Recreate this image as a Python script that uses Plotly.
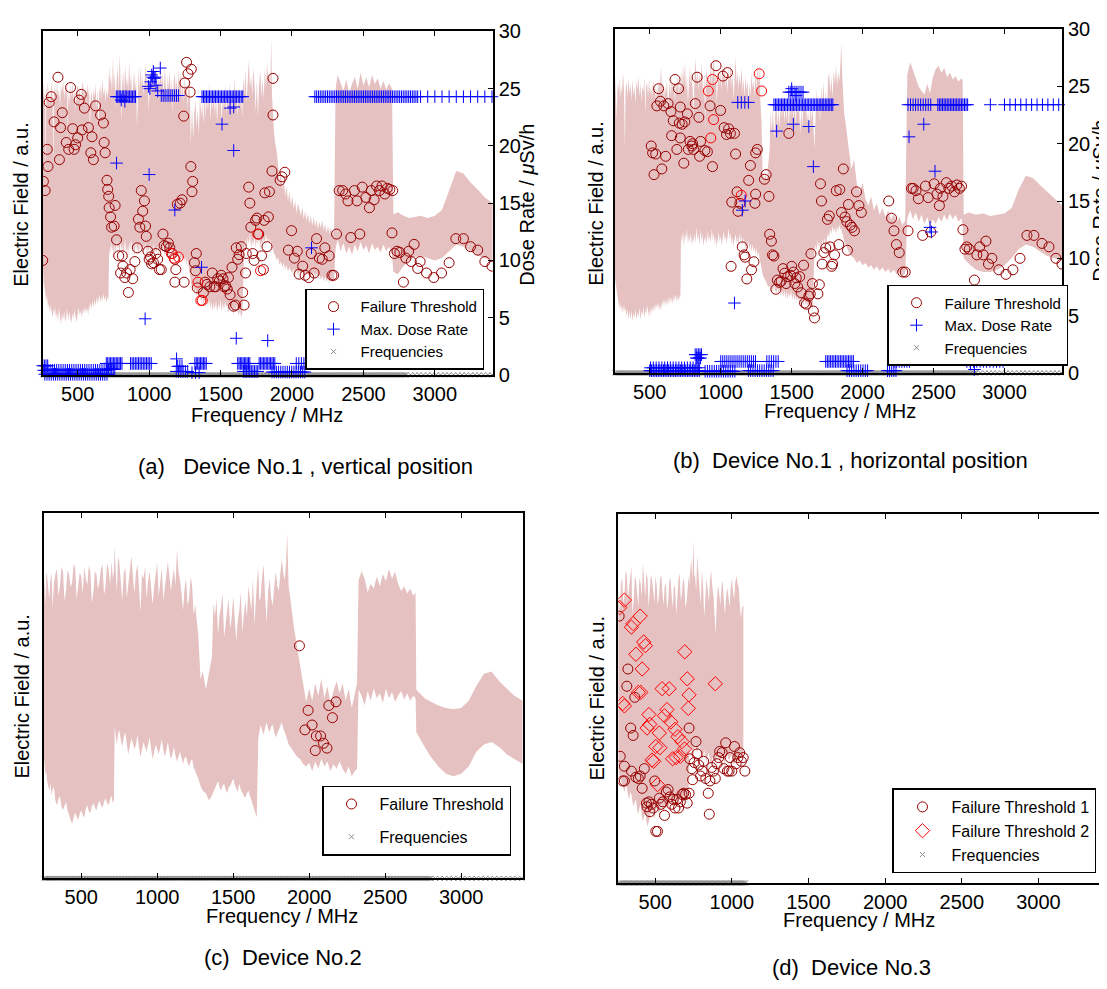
import numpy as np
import plotly.graph_objects as go

W, H = 1107, 989
PAGE_OFFSET = 8  # default page margin of the html body, in px
FONT = "Liberation Sans, Arial, Helvetica, sans-serif"

# ---------------- data ----------------
X_TICKS = [500, 1000, 1500, 2000, 2500, 3000]
DOSE_TICKS = [0, 5, 10, 15, 20, 25, 30]
X_RANGE = [255, 3405]
X_RANGE_D = [260, 3408]
Y_RANGE = [0, 30]

CAPTIONS = ["(a)   Device No.1 , vertical position",
            "(b)  Device No.1 , horizontal position",
            "(c)  Device No.2",
            "(d)  Device No.3"]

# test-frequency sweeps (start, stop, step) in MHz
FREQ_SWEEP_ABC = [(255, 2800, 10), (2800, 3406, 30)]
FREQ_SWEEP_D = [(258, 1092, 8)]

# ---- panel (a): field band (MHz, upper, lower) ----
BAND_A = [
    (255, 25.5, 10.0), (259, 24.2, 8.6), (264, 25.8, 7.4), (268, 23.0, 8.0), (272, 25.1, 6.8), (276, 17.5, 7.2),
    (280, 24.4, 6.4), (286, 25.6, 6.9), (292, 24.0, 5.8), (298, 25.2, 6.3), (305, 23.6, 5.4), (311, 24.9, 6.1),
    (318, 25.7, 5.6), (324, 24.1, 5.0), (330, 18.2, 5.8), (334, 24.6, 5.2), (341, 25.3, 6.0), (348, 23.8, 4.9),
    (355, 25.5, 5.5), (362, 24.3, 4.6), (369, 25.0, 5.9), (376, 23.4, 5.1), (383, 25.4, 4.4), (390, 24.6, 5.3),
    (398, 25.8, 4.8), (405, 24.0, 5.6), (412, 25.2, 4.6), (419, 24.5, 5.0), (426, 25.6, 5.8), (430, 20.5, 5.3),
    (434, 24.8, 4.7), (441, 23.6, 5.5), (448, 25.3, 5.0), (456, 24.2, 4.5), (463, 25.5, 5.4), (470, 24.0, 4.9),
    (478, 25.0, 5.7), (485, 23.2, 5.1), (492, 24.8, 4.6), (500, 25.4, 5.3), (507, 24.1, 5.9), (514, 25.2, 5.2),
    (522, 23.5, 5.6), (529, 24.9, 5.0), (536, 25.7, 5.8), (544, 24.3, 5.3), (551, 25.1, 6.0), (558, 23.9, 5.4),
    (566, 25.5, 5.9), (573, 24.4, 5.2), (580, 25.2, 6.2), (586, 21.0, 5.6), (590, 24.0, 6.4), (597, 24.8, 5.8),
    (604, 23.6, 6.5), (611, 25.0, 5.9), (618, 24.2, 6.6), (625, 25.4, 6.0), (632, 23.3, 6.8), (640, 24.9, 6.2),
    (647, 20.8, 6.5), (651, 24.6, 7.0), (658, 25.3, 6.3), (665, 24.0, 6.9), (672, 25.8, 6.4), (680, 24.4, 7.1),
    (687, 25.1, 6.5), (694, 23.8, 6.9), (701, 25.0, 6.3), (708, 24.2, 6.8), (715, 25.0, 6.6),
    (720, 27.0, 11.0), (726, 25.4, 10.4), (733, 26.2, 11.6), (740, 24.6, 10.8), (747, 27.8, 11.2), (753, 25.0, 10.2),
    (760, 26.4, 11.4), (766, 23.2, 10.6), (773, 25.8, 11.8), (780, 26.9, 10.9), (787, 24.8, 11.3), (794, 28.0, 10.5),
    (800, 25.6, 11.7), (806, 22.0, 10.8), (811, 25.2, 11.4), (818, 26.6, 10.4), (825, 24.4, 11.0), (832, 27.1, 11.8),
    (839, 25.3, 10.6), (846, 26.0, 11.2), (853, 24.6, 10.3), (860, 27.4, 11.6), (867, 25.2, 10.8), (874, 26.3, 11.9),
    (881, 23.8, 10.9), (888, 25.7, 11.3), (895, 26.5, 10.4), (902, 24.9, 11.0), (909, 25.8, 11.7), (915, 21.5, 10.7),
    (920, 25.4, 11.2), (927, 26.9, 10.5), (934, 24.7, 11.5), (941, 27.0, 10.9), (948, 25.1, 11.4), (955, 26.2, 10.6),
    (962, 24.4, 11.3), (969, 25.9, 10.8), (976, 27.2, 11.6), (983, 25.0, 10.5), (990, 26.1, 11.1), (997, 23.0, 10.7),
    (1004, 25.6, 11.4), (1011, 26.8, 10.6), (1018, 25.2, 11.2), (1025, 27.4, 10.8), (1032, 24.9, 11.5), (1039, 26.3, 10.5),
    (1046, 25.5, 11.0), (1053, 27.0, 10.7), (1060, 24.6, 11.3), (1067, 26.1, 10.4), (1074, 25.3, 11.1), (1081, 27.6, 10.6),
    (1088, 25.0, 11.4), (1095, 26.4, 10.8), (1102, 24.2, 11.2), (1109, 26.9, 10.3), (1116, 25.4, 11.0), (1123, 23.6, 10.6),
    (1130, 26.2, 11.3), (1137, 25.0, 10.4), (1144, 26.7, 10.9), (1151, 24.3, 11.5), (1158, 25.8, 10.5), (1165, 22.9, 11.0),
    (1172, 25.6, 10.2), (1179, 26.4, 10.8), (1186, 24.8, 11.2), (1193, 25.9, 10.4), (1200, 24.1, 10.9), (1207, 26.8, 10.1),
    (1214, 25.2, 10.7), (1221, 26.5, 9.9), (1228, 24.0, 10.5), (1235, 25.7, 10.0), (1242, 23.8, 10.6), (1249, 26.0, 9.8),
    (1256, 24.6, 10.3), (1263, 25.4, 9.6), (1270, 23.2, 10.1), (1277, 25.8, 9.4), (1285, 24.6, 9.0),
    (1292, 20.0, 8.2), (1300, 23.4, 7.6), (1308, 20.6, 7.9), (1316, 22.8, 7.2), (1324, 24.0, 7.6), (1332, 21.6, 6.8),
    (1340, 23.2, 7.3), (1348, 20.9, 6.5), (1356, 24.4, 7.0), (1364, 22.5, 6.3), (1372, 23.9, 6.9), (1380, 21.8, 6.1),
    (1388, 25.0, 6.6), (1396, 22.4, 5.9), (1404, 24.6, 6.5), (1412, 23.0, 6.0), (1420, 25.6, 6.7), (1428, 22.2, 5.8),
    (1436, 24.1, 6.4), (1444, 23.2, 5.6), (1452, 24.9, 6.3), (1460, 22.6, 5.7), (1468, 24.3, 6.5), (1476, 21.9, 5.5),
    (1484, 25.2, 6.2), (1492, 23.4, 5.8), (1500, 24.6, 6.6), (1508, 22.1, 5.5), (1516, 24.8, 6.3), (1524, 23.0, 5.7),
    (1532, 25.4, 6.4), (1540, 22.8, 5.9), (1548, 24.2, 6.1), (1556, 23.6, 5.4), (1564, 25.5, 6.2), (1572, 23.1, 5.6),
    (1580, 24.7, 6.0), (1588, 22.9, 5.3), (1596, 25.9, 5.9), (1604, 23.8, 5.4), (1612, 24.9, 6.1), (1620, 22.6, 5.5),
    (1628, 25.1, 5.2), (1636, 23.4, 5.7), (1644, 24.2, 5.0), (1652, 22.5, 5.4),
    (1658, 26.0, 8.5), (1666, 24.5, 11.0), (1674, 26.8, 11.8), (1682, 23.8, 11.2), (1690, 25.6, 12.0), (1698, 27.5, 11.4),
    (1706, 25.0, 12.4), (1714, 26.2, 11.0), (1722, 24.4, 11.8), (1730, 26.9, 11.3), (1738, 25.3, 12.2), (1746, 23.0, 11.1),
    (1754, 25.8, 11.9), (1762, 22.5, 11.4), (1770, 25.4, 12.1), (1778, 26.6, 11.0), (1786, 24.2, 11.7), (1794, 25.9, 11.2),
    (1802, 24.0, 12.0), (1810, 26.8, 11.5), (1818, 25.1, 12.3), (1826, 27.3, 11.6), (1834, 25.6, 12.0), (1842, 26.4, 11.4),
    (1848, 25.2, 11.8), (1855, 29.4, 11.6), (1860, 24.5, 11.2), (1866, 23.0, 11.0), (1874, 21.2, 10.6),
    (1882, 20.3, 10.5), (1892, 19.6, 10.0), (1902, 18.4, 10.3), (1912, 16.6, 9.6), (1922, 17.8, 9.9), (1932, 16.2, 9.4),
    (1942, 17.2, 9.8), (1952, 15.6, 9.2), (1962, 16.5, 9.6), (1972, 15.1, 9.0), (1982, 16.0, 9.4), (1992, 14.8, 9.1),
    (2002, 15.6, 8.9), (2012, 14.5, 9.3), (2022, 15.2, 8.8), (2032, 14.1, 9.2), (2042, 15.0, 8.7), (2052, 14.4, 9.1),
    (2062, 13.9, 8.8), (2072, 14.7, 9.2), (2082, 13.6, 8.6), (2092, 14.3, 9.0), (2102, 13.4, 8.7), (2112, 14.1, 9.1),
    (2122, 13.2, 8.5), (2132, 13.9, 8.9), (2142, 13.0, 8.6), (2152, 13.8, 9.0), (2162, 12.9, 8.5), (2172, 13.6, 8.9),
    (2182, 12.7, 8.4), (2192, 13.4, 8.8), (2202, 12.8, 8.3), (2212, 13.5, 8.7), (2222, 12.6, 8.2), (2232, 13.2, 8.6),
    (2242, 12.4, 8.1), (2252, 13.0, 8.5), (2262, 12.3, 8.0), (2272, 12.9, 8.4), (2282, 12.2, 8.1), (2295, 12.7, 8.3),
    (2305, 25.0, 11.0), (2320, 26.2, 11.8), (2340, 25.5, 10.8), (2360, 24.8, 11.5), (2380, 25.8, 10.6),
    (2400, 24.6, 11.2), (2420, 25.4, 10.5), (2440, 26.0, 11.4), (2460, 25.0, 10.8), (2480, 26.4, 11.6),
    (2500, 25.3, 10.9), (2520, 26.0, 11.3), (2540, 25.1, 10.6), (2560, 26.2, 11.5), (2580, 25.4, 10.9),
    (2600, 25.9, 11.2), (2620, 25.0, 10.7), (2640, 25.7, 11.4), (2660, 24.9, 10.8), (2680, 25.5, 11.2),
    (2700, 25.0, 10.5), (2710, 14.0, 9.0), (2740, 14.2, 8.8), (2780, 13.9, 9.5), (2820, 13.7, 10.0),
    (2860, 13.8, 10.3), (2900, 13.9, 10.4), (2950, 13.7, 10.2), (3000, 13.9, 10.0), (3050, 14.4, 10.2),
    (3100, 16.2, 10.8), (3150, 17.8, 11.4), (3200, 17.6, 11.2), (3250, 16.8, 10.8), (3300, 16.2, 10.4),
    (3350, 15.5, 10.2), (3405, 15.0, 10.0),
]

# failure threshold (MHz, field) panel (a)
FT_A = [
    (255, 10.0), (260, 16.9), (272, 16.1), (287, 19.7), (292, 18.2), (300, 23.8), (315, 24.3), (335, 22.1),
    (362, 26.0), (372, 18.8), (380, 21.6), (392, 22.9), (420, 20.3), (437, 19.7), (450, 25.1), (465, 21.5),
    (475, 19.7), (485, 20.1), (500, 20.7), (510, 24.0), (525, 24.5), (530, 21.4), (547, 23.3), (575, 21.6),
    (592, 19.4), (600, 20.8), (610, 18.8), (625, 23.5), (660, 22.7), (680, 22.0), (685, 20.3), (692, 19.4),
    (705, 17.0), (710, 16.2), (717, 15.6), (720, 14.6), (730, 13.8), (737, 12.9), (755, 13.0), (762, 14.8),
    (772, 11.8), (787, 10.4), (800, 8.9), (812, 10.4), (817, 9.5), (830, 8.5), (842, 8.9), (855, 7.2),
    (867, 9.2), (885, 8.4), (900, 9.9), (917, 11.1), (925, 13.6), (935, 12.9), (945, 16.1), (955, 14.3),
    (967, 15.2), (975, 13.0), (980, 12.1), (992, 10.8), (1000, 10.1), (1010, 10.3), (1017, 9.7), (1030, 9.8),
    (1047, 10.6), (1060, 10.1), (1072, 9.2), (1085, 9.2), (1097, 12.3), (1105, 11.3), (1120, 11.2), (1135, 11.5),
    (1145, 11.1), (1162, 10.6), (1180, 10.1), (1187, 9.2), (1180, 8.1), (1197, 14.9), (1217, 15.0), (1230, 15.3),
    (1242, 22.6), (1245, 8.1), (1250, 25.5), (1262, 27.3), (1272, 26.3), (1287, 24.7), (1295, 26.7), (1292, 18.2),
    (1300, 16.0), (1305, 16.9), (1317, 9.8), (1325, 9.1), (1330, 10.6), (1337, 7.6), (1380, 7.2), (1392, 8.1),
    (1405, 7.9), (1425, 7.7), (1442, 8.9), (1455, 7.7), (1467, 7.7), (1480, 8.4), (1492, 8.2), (1505, 8.7),
    (1517, 8.4), (1525, 7.7), (1535, 7.8), (1547, 7.5), (1555, 8.5), (1567, 7.0), (1580, 9.4), (1592, 6.0),
    (1605, 6.1), (1610, 11.1), (1620, 10.1), (1630, 10.5), (1645, 11.2), (1655, 7.2), (1665, 6.1), (1675, 8.9),
    (1680, 10.6), (1697, 16.4), (1705, 15.0), (1712, 12.9), (1725, 10.6), (1735, 10.0), (1745, 13.5), (1755, 13.7),
    (1767, 12.3), (1787, 10.4), (1800, 9.2), (1805, 13.5), (1810, 15.9), (1825, 11.2), (1835, 13.8), (1842, 16.0),
    (1860, 17.8), (1867, 25.9), (1867, 22.7), (1917, 17.0), (1930, 17.3), (1950, 17.7), (1975, 10.9), (1997, 12.6),
    (2017, 10.2), (2037, 10.8), (2050, 8.8), (2075, 9.5), (2092, 8.7), (2117, 8.5), (2135, 10.6), (2155, 8.9),
    (2172, 11.9), (2192, 10.2), (2212, 10.1), (2230, 11.1), (2260, 10.4), (2280, 8.7), (2292, 8.7), (2312, 12.3),
    (2330, 16.1), (2355, 16.1), (2375, 15.8), (2392, 15.2), (2412, 12.0), (2437, 16.1), (2455, 15.2), (2475, 12.3),
    (2492, 16.4), (2517, 15.5), (2542, 14.6), (2555, 16.1), (2575, 15.3), (2592, 16.5), (2612, 16.1), (2630, 16.5),
    (2650, 15.8), (2667, 16.3), (2685, 16.2), (2705, 16.1), (2700, 12.4), (2717, 10.6), (2735, 10.8), (2755, 10.7),
    (2780, 8.1), (2797, 10.2), (2817, 10.8), (2835, 9.9), (2855, 11.4), (2880, 9.3), (2897, 9.9), (2942, 8.9),
    (2992, 8.5), (3047, 8.9), (3100, 9.8), (3147, 11.9), (3200, 11.9), (3250, 11.2), (3300, 10.9), (3350, 9.9),
    (3400, 9.5),
]
FT_A_RED = [(1155, 10.6), (1175, 10.2), (1205, 10.3), (1342, 8.1), (1362, 6.5), (1372, 6.5),
            (1760, 12.3), (1780, 9.1)]

# max dose rate (μSv/h) panel (a): sweep runs (start, stop, count, value) + single readings
DOSE_A_RUNS = [
    (255, 290, 4, 0.8), (262, 700, 30, 0.4), (270, 705, 30, 0.05), (700, 810, 12, 1.0),
    (705, 760, 6, 0.5), (870, 1015, 14, 1.0), (1190, 1270, 6, 0.3), (1200, 1230, 3, 0.75),
    (1300, 1350, 3, 0.2), (1320, 1400, 9, 1.0), (1620, 1705, 10, 1.0), (1660, 1760, 10, 0.3),
    (1770, 1880, 12, 1.0), (1860, 2090, 16, 0.25), (2030, 2190, 10, 1.0),
    (770, 905, 14, 24.3), (1085, 1205, 10, 24.4), (1370, 1655, 28, 24.3),
    (2160, 2880, 58, 24.3), (2900, 3400, 11, 24.3),
]
DOSE_A_PTS = [
    (772, 18.5), (1000, 17.5), (1180, 14.4), (2137, 11.1), (1367, 9.4), (972, 4.9), (1610, 3.2),
    (1830, 3.0), (1192, 1.4), (995, 25.2), (1005, 25.0), (1012, 25.6), (1018, 26.2), (1025, 26.0),
    (1030, 26.5), (1035, 25.9), (1042, 26.0), (1048, 25.3), (1060, 24.8), (1078, 26.8), (1510, 21.9),
    (1567, 23.3), (1592, 23.4), (1592, 19.6), (805, 24.0), (830, 23.9),
]

# ---- panel (b) ----
BAND_B = [
    (251, 24.5, 9.5), (256, 25.9, 8.2), (262, 24.0, 7.6), (268, 22.0, 7.0), (273, 25.3, 6.6), (279, 24.6, 6.1),
    (285, 25.8, 5.6), (291, 23.9, 6.2), (297, 25.1, 5.4), (304, 24.3, 5.9), (311, 26.2, 5.2), (318, 24.8, 6.0),
    (325, 19.5, 5.3), (329, 24.6, 5.7), (336, 25.4, 4.9), (343, 24.0, 5.6), (350, 25.7, 4.7), (357, 24.4, 5.4),
    (364, 25.2, 4.6), (371, 23.8, 5.5), (378, 25.6, 4.5), (385, 24.2, 5.2), (392, 25.0, 4.8), (399, 23.5, 5.6),
    (406, 25.5, 4.6), (413, 24.7, 5.3), (420, 25.9, 4.9), (427, 24.1, 5.7), (434, 25.3, 4.6), (441, 23.7, 5.4),
    (448, 25.0, 5.0), (455, 24.5, 5.8), (462, 25.8, 4.8), (469, 22.6, 5.5), (474, 24.9, 5.1), (481, 25.4, 5.9),
    (488, 24.0, 5.3), (495, 25.6, 4.9), (502, 24.3, 5.7), (509, 25.1, 5.1), (516, 23.9, 5.8), (523, 25.7, 5.3),
    (530, 24.6, 6.0), (537, 25.2, 5.4), (544, 23.4, 6.1), (551, 25.0, 5.6), (558, 24.2, 6.2), (565, 25.6, 5.5),
    (572, 24.8, 6.0), (579, 26.8, 5.4), (586, 24.5, 6.3), (593, 25.3, 5.8), (600, 23.8, 6.5), (607, 25.0, 5.9),
    (614, 24.4, 6.4), (621, 25.6, 5.8), (628, 23.2, 6.6), (635, 24.9, 6.0), (642, 25.5, 6.7), (649, 24.1, 6.1),
    (656, 25.8, 6.6), (663, 24.6, 6.0), (670, 25.2, 6.8), (677, 23.7, 6.3), (684, 25.4, 6.9), (691, 24.8, 6.2),
    (698, 25.9, 6.7), (705, 24.3, 6.3), (712, 25.1, 6.8), (716, 24.8, 6.6),
    (720, 26.5, 12.0), (727, 24.6, 11.3), (734, 26.9, 12.4), (741, 25.1, 11.0), (748, 27.2, 12.2), (755, 24.4, 11.6),
    (762, 26.0, 12.6), (769, 23.5, 11.2), (776, 25.7, 12.0), (783, 26.8, 11.4), (790, 25.0, 12.3), (797, 26.3, 11.1),
    (804, 24.1, 11.8), (810, 22.4, 11.4), (815, 25.6, 12.2), (822, 27.5, 11.3), (829, 25.3, 12.7), (836, 26.4, 11.6),
    (843, 24.7, 12.1), (850, 26.1, 11.2), (857, 25.0, 12.5), (864, 27.0, 11.5), (871, 25.6, 12.2), (878, 24.3, 11.0),
    (885, 26.2, 11.8), (890, 21.0, 11.4), (895, 25.4, 12.0), (902, 26.6, 11.2), (909, 24.8, 12.4), (916, 26.1, 11.5),
    (923, 25.3, 12.0), (930, 27.3, 11.3), (937, 24.9, 12.6), (944, 26.4, 11.6), (951, 27.8, 12.2), (958, 25.1, 11.2),
    (965, 26.2, 11.9), (972, 23.6, 11.0), (979, 25.8, 11.7), (986, 26.7, 12.3), (993, 25.0, 11.4), (1000, 26.3, 12.0),
    (1007, 24.6, 11.1), (1014, 26.9, 11.8), (1021, 25.4, 12.4), (1028, 27.0, 11.5), (1035, 24.8, 12.0), (1042, 26.0, 11.3),
    (1049, 24.4, 11.8), (1056, 26.6, 12.6), (1063, 25.3, 11.6), (1070, 27.1, 12.2), (1077, 24.9, 11.2), (1084, 26.0, 11.8),
    (1091, 23.8, 11.0), (1098, 26.4, 11.7), (1105, 27.6, 12.1), (1112, 25.2, 11.3), (1119, 26.3, 11.9), (1126, 24.7, 11.0),
    (1133, 26.0, 12.2), (1140, 25.1, 11.4), (1147, 26.8, 12.0), (1154, 24.4, 11.1), (1161, 25.7, 11.8), (1168, 24.0, 11.2),
    (1175, 25.9, 10.8), (1182, 24.6, 11.5), (1189, 25.5, 10.9), (1196, 23.2, 11.6), (1203, 25.3, 10.7), (1210, 24.1, 11.3),
    (1217, 26.2, 10.6), (1224, 24.8, 11.2), (1231, 25.6, 10.5), (1238, 24.0, 11.0), (1245, 26.4, 10.4), (1252, 24.6, 10.9),
    (1259, 27.0, 10.2), (1266, 25.2, 10.6), (1273, 26.6, 9.9), (1280, 23.5, 9.6), (1287, 22.0, 9.2),
    (1295, 17.5, 8.6), (1305, 16.9, 8.3), (1315, 17.4, 8.0), (1325, 16.8, 7.8), (1335, 18.2, 7.5), (1345, 19.6, 7.6),
    (1352, 22.8, 7.1), (1360, 21.0, 7.7), (1368, 23.2, 7.0), (1376, 20.2, 7.8), (1384, 22.6, 7.2), (1392, 23.8, 6.9),
    (1400, 21.5, 7.5), (1408, 23.0, 6.8), (1416, 21.4, 7.4), (1424, 24.0, 6.7), (1432, 22.2, 7.3), (1440, 24.4, 6.6),
    (1448, 21.8, 7.2), (1456, 23.4, 6.5), (1464, 22.0, 7.1), (1472, 24.1, 6.4), (1480, 21.2, 7.0), (1488, 23.6, 6.6),
    (1496, 22.4, 7.2), (1504, 24.6, 6.4), (1512, 22.0, 6.9), (1520, 23.8, 6.3), (1528, 21.6, 6.8), (1536, 24.2, 6.2),
    (1544, 22.6, 6.7), (1552, 23.4, 6.1), (1560, 20.8, 6.6), (1568, 23.0, 6.0), (1576, 21.4, 6.5), (1584, 24.0, 5.9),
    (1592, 22.6, 6.4), (1600, 23.6, 5.8), (1608, 21.8, 6.3), (1616, 22.9, 5.7), (1624, 21.0, 6.1), (1632, 23.3, 5.5),
    (1640, 22.0, 5.9), (1648, 23.2, 5.4),
    (1660, 19.5, 10.5), (1668, 23.4, 11.2), (1676, 24.8, 10.7), (1684, 22.6, 11.6), (1692, 24.2, 10.9), (1700, 21.8, 11.4),
    (1708, 25.0, 10.8), (1716, 23.2, 11.7), (1724, 25.4, 11.1), (1732, 22.8, 11.8), (1740, 24.6, 11.0), (1748, 22.5, 11.6),
    (1756, 25.6, 12.2), (1764, 26.2, 11.8), (1772, 24.4, 12.6), (1780, 25.8, 12.1), (1788, 24.0, 12.8), (1796, 26.4, 12.3),
    (1804, 25.2, 12.7), (1812, 26.8, 12.1), (1820, 25.0, 12.8), (1828, 26.2, 12.4), (1836, 25.4, 12.9), (1844, 27.0, 12.5),
    (1850, 28.8, 12.6), (1856, 26.0, 12.2), (1862, 24.5, 12.0), (1870, 22.6, 11.5),
    (1880, 21.8, 11.2), (1900, 19.8, 10.6), (1920, 17.8, 10.2), (1940, 18.6, 10.0),
    (1960, 16.4, 9.6), (1980, 15.8, 9.8), (2000, 16.6, 9.4), (2020, 15.2, 9.6), (2040, 14.6, 9.2),
    (2060, 15.4, 9.4), (2080, 14.2, 9.0), (2100, 14.8, 9.3), (2120, 13.8, 8.9), (2140, 14.4, 9.2),
    (2160, 13.6, 8.8), (2180, 14.2, 9.1), (2200, 13.4, 8.7), (2220, 13.9, 9.0), (2240, 13.2, 8.6),
    (2260, 13.6, 8.9), (2280, 12.9, 8.5), (2300, 13.3, 8.7),
    (2315, 26.0, 13.5), (2335, 27.1, 14.2), (2355, 26.4, 13.4), (2375, 25.6, 14.0), (2395, 25.0, 13.2),
    (2415, 24.6, 13.8), (2435, 24.3, 13.0), (2455, 25.2, 13.6), (2475, 24.4, 12.8), (2495, 25.8, 13.4),
    (2515, 26.5, 13.0), (2535, 26.8, 13.6), (2555, 26.2, 13.2), (2575, 26.6, 13.8), (2595, 25.8, 13.3),
    (2615, 26.2, 13.9), (2635, 25.6, 13.4), (2655, 25.9, 13.8), (2675, 25.4, 13.2), (2695, 25.7, 13.5),
    (2705, 25.5, 13.0), (2712, 13.8, 10.0), (2750, 14.0, 9.5), (2800, 13.8, 9.0), (2850, 13.9, 8.8),
    (2900, 13.7, 8.8), (2950, 13.8, 9.0), (3000, 13.9, 9.4), (3050, 14.4, 10.0), (3100, 16.0, 10.8),
    (3150, 17.2, 11.2), (3200, 17.0, 11.0), (3250, 16.4, 10.6), (3300, 15.8, 10.2), (3350, 15.2, 10.0),
    (3405, 14.6, 9.8),
]
FT_B = [
    (510, 19.8), (520, 19.2), (530, 17.3), (542, 19.1), (550, 23.3), (562, 24.8), (575, 23.7), (585, 17.8),
    (599, 23.3), (612, 18.9), (629, 23.5), (649, 22.8), (654, 20.7), (666, 22.0), (678, 25.6), (691, 19.5),
    (703, 24.8), (708, 21.8), (715, 23.2), (715, 20.5), (728, 21.7), (740, 18.3), (747, 21.9), (765, 22.6),
    (772, 19.5), (784, 20.2), (797, 19.8), (802, 20.0), (809, 19.5), (821, 23.5), (834, 25.8), (846, 22.3),
    (851, 18.9), (858, 20.2), (888, 19.4), (906, 19.3), (925, 23.3), (942, 18.0), (967, 26.8), (999, 22.9),
    (1016, 25.9), (1024, 21.4), (1041, 20.8), (1048, 26.2), (1056, 21.3), (1068, 20.9), (1073, 9.3), (1097, 20.9),
    (1105, 19.1), (1115, 15.8), (1078, 14.9), (1122, 14.1), (1135, 14.8), (1152, 11.0), (1165, 10.3), (1172, 10.1),
    (1184, 8.2), (1197, 16.8), (1209, 18.1), (1217, 9.0), (1234, 9.7), (1241, 14.8), (1246, 15.6), (1246, 19.2),
    (1258, 19.5), (1308, 16.9), (1320, 17.3), (1340, 15.4), (1345, 12.1), (1357, 11.5), (1365, 10.3), (1375, 10.2),
    (1389, 7.3), (1399, 8.1), (1414, 7.9), (1426, 8.0), (1439, 9.1), (1451, 8.7), (1461, 7.8), (1473, 8.4),
    (1480, 20.9), (1493, 8.5), (1500, 9.3), (1513, 8.8), (1522, 7.8), (1532, 8.3), (1542, 7.5), (1557, 8.4),
    (1567, 7.0), (1584, 9.4), (1591, 6.1), (1604, 6.0), (1621, 6.7), (1631, 6.9), (1636, 10.4), (1646, 7.8),
    (1653, 5.4), (1661, 4.8), (1685, 6.9), (1695, 7.7), (1703, 16.5), (1710, 15.0), (1715, 9.5), (1727, 10.5),
    (1740, 10.9), (1752, 13.4), (1765, 13.7), (1770, 11.0), (1782, 9.3), (1789, 9.5), (1802, 10.3), (1814, 15.9),
    (1832, 11.2), (1839, 16.0), (1851, 14.0), (1864, 17.8), (1876, 13.6), (1888, 13.2), (1893, 10.7), (1900, 14.7),
    (1913, 12.9), (1925, 12.7), (1942, 12.4), (1957, 15.8), (1974, 14.6), (1991, 14.0), (2184, 15.0), (2204, 13.5),
    (2221, 12.4), (2238, 11.2), (2258, 10.5), (2283, 8.8), (2300, 8.8), (2320, 12.4), (2344, 16.1), (2356, 16.1),
    (2376, 15.9), (2393, 15.2), (2423, 12.0), (2443, 16.3), (2462, 15.3), (2480, 12.3), (2504, 16.5), (2524, 15.6),
    (2541, 14.6), (2548, 16.1), (2566, 15.4), (2590, 16.6), (2608, 16.1), (2627, 16.3), (2647, 15.8), (2664, 16.4),
    (2682, 16.1), (2697, 16.3), (2707, 12.5), (2721, 10.8), (2734, 11.0), (2751, 10.8), (2788, 8.1), (2805, 10.3),
    (2825, 11.0), (2850, 10.3), (2869, 11.5), (2887, 9.5), (2911, 10.0), (2960, 9.0), (3010, 8.6), (3059, 9.0),
    (3109, 10.0), (3158, 12.0), (3207, 12.0), (3264, 11.3), (3313, 11.0), (3362, 10.0), (3405, 9.5),
]
FT_B_RED = [(913, 24.6), (942, 25.6), (950, 22.1), (930, 20.5), (1271, 26.1), (1288, 24.6), (1145, 15.5)]
DOSE_B_RUNS = [
    (500, 850, 30, 0.2), (505, 845, 18, 0.45), (820, 865, 5, 1.6), (828, 858, 4, 1.3),
    (890, 1100, 14, 0.15), (1000, 1245, 18, 1.0), (1195, 1370, 12, 0.2), (1325, 1405, 6, 1.0),
    (1740, 1935, 18, 1.0), (1890, 2035, 10, 0.2), (2175, 2235, 5, 0.2), (2222, 2330, 7, 1.0),
    (2735, 2990, 12, 1.0), (1120, 1195, 4, 23.6), (1375, 1790, 40, 23.4), (1480, 1580, 8, 24.5),
    (2320, 2480, 10, 23.4), (2530, 2740, 20, 23.4), (3000, 3420, 12, 23.4),
]
DOSE_B_PTS = [
    (1394, 21.1), (1512, 21.7), (1621, 21.5), (1653, 18.0), (2327, 20.6), (2431, 21.7), (2510, 17.6),
    (2475, 12.7), (2485, 12.3), (1172, 15.0), (1152, 14.2), (1097, 6.1), (2788, 0.3), (2900, 23.4),
    (1500, 24.8), (1530, 24.2), (2760, 0.8),
]

# ---- panel (c) ----
BAND_C = [
    (255, 24.8, 10.0), (260, 23.0, 9.2), (265, 22.5, 8.5), (270, 25.2, 8.8), (275, 24.9, 8.0), (283, 23.8, 7.6),
    (290, 23.0, 7.2), (298, 24.6, 7.8), (305, 25.0, 6.8), (312, 22.2, 7.3), (320, 24.2, 7.5), (330, 25.0, 6.4),
    (340, 25.4, 6.0), (350, 23.2, 6.5), (360, 24.0, 6.8), (370, 25.6, 5.9), (380, 25.2, 5.6), (390, 22.8, 6.0),
    (400, 23.6, 6.3), (410, 25.3, 5.6), (420, 25.0, 5.2), (430, 23.9, 4.8), (440, 24.3, 4.5), (450, 25.8, 5.0),
    (460, 25.5, 5.4), (470, 22.9, 5.1), (480, 23.8, 4.8), (490, 25.1, 5.3), (500, 24.8, 5.6), (510, 23.4, 5.2),
    (520, 25.6, 5.0), (530, 24.6, 5.7), (540, 24.1, 6.0), (550, 25.7, 5.5), (560, 25.2, 5.4), (570, 22.6, 5.9),
    (580, 23.5, 6.2), (590, 25.2, 5.8), (600, 25.0, 5.6), (610, 23.7, 6.1), (620, 24.4, 6.4), (630, 25.4, 6.0),
    (640, 25.8, 5.8), (650, 23.3, 6.3), (660, 24.0, 6.6), (670, 25.9, 6.2), (680, 25.4, 6.0), (690, 24.1, 6.5),
    (700, 26.0, 6.8), (708, 24.6, 6.2), (715, 25.2, 6.4), (720, 27.3, 12.5), (728, 25.0, 11.6), (735, 23.5, 11.0),
    (742, 26.4, 11.8), (750, 26.0, 12.2), (760, 24.4, 11.4), (770, 22.8, 10.8), (780, 25.0, 11.6), (790, 25.6, 12.0),
    (800, 23.0, 11.0), (810, 24.2, 10.2), (820, 25.8, 10.9), (830, 26.5, 11.5), (840, 24.8, 11.1), (850, 23.4, 10.6),
    (860, 25.1, 11.0), (870, 25.8, 11.8), (880, 24.0, 10.8), (890, 21.8, 10.0), (900, 25.0, 10.6), (910, 24.6, 11.2),
    (920, 25.6, 10.8), (930, 23.0, 10.4), (940, 24.4, 11.0), (950, 25.2, 11.6), (960, 23.8, 10.6), (970, 22.5, 9.8),
    (980, 24.0, 10.4), (990, 24.8, 11.0), (1000, 25.9, 10.6), (1010, 23.2, 10.2), (1020, 24.2, 10.8), (1030, 25.5, 11.4),
    (1040, 22.8, 10.6), (1050, 24.0, 10.0), (1060, 25.0, 10.5), (1070, 26.0, 11.2), (1080, 24.9, 10.4), (1090, 23.6, 9.8),
    (1100, 24.6, 10.2), (1110, 25.4, 10.8), (1120, 24.0, 10.1), (1130, 27.0, 9.6), (1140, 25.2, 10.0), (1150, 24.5, 10.4),
    (1160, 23.4, 9.8), (1170, 22.0, 9.4), (1180, 23.8, 9.9), (1190, 24.6, 10.0), (1200, 22.4, 9.5), (1210, 23.0, 9.2),
    (1220, 24.8, 9.6), (1230, 24.0, 9.8), (1240, 21.6, 9.1), (1250, 22.5, 8.8), (1260, 21.2, 8.5), (1270, 20.0, 8.2),
    (1285, 16.4, 7.6), (1300, 17.0, 7.2), (1320, 15.5, 7.0), (1340, 16.8, 6.4), (1360, 18.2, 6.8),
    (1370, 22.6, 7.0), (1380, 21.5, 7.4), (1390, 23.0, 7.7), (1400, 20.0, 8.0), (1410, 21.6, 7.5), (1420, 22.3, 7.2),
    (1430, 23.4, 7.6), (1440, 19.8, 7.8), (1450, 20.9, 7.3), (1460, 21.8, 7.0), (1470, 23.0, 7.5), (1480, 20.5, 7.6),
    (1490, 21.4, 7.9), (1500, 23.2, 8.2), (1510, 21.0, 7.7), (1520, 19.5, 7.4), (1530, 21.2, 7.1), (1540, 22.0, 7.8),
    (1550, 23.5, 7.3), (1560, 20.2, 7.0), (1570, 21.6, 6.8), (1580, 22.8, 6.6), (1590, 21.4, 7.0), (1600, 24.0, 7.2),
    (1610, 23.0, 6.6), (1620, 22.0, 6.2), (1630, 24.6, 5.9), (1640, 20.8, 5.6), (1655, 24.2, 5.0),
    (1665, 25.5, 11.5), (1672, 22.8, 12.0), (1680, 23.0, 12.6), (1690, 24.8, 12.2), (1700, 25.8, 11.8), (1710, 23.2, 12.4),
    (1720, 21.0, 12.8), (1730, 23.6, 12.3), (1740, 24.6, 12.0), (1750, 23.0, 12.5), (1760, 22.4, 12.6), (1770, 24.0, 12.0),
    (1780, 25.2, 11.6), (1790, 24.0, 12.0), (1800, 23.6, 12.2), (1810, 25.0, 12.5), (1820, 26.2, 12.8), (1830, 25.0, 12.3),
    (1840, 24.5, 12.0), (1848, 26.0, 11.8), (1855, 28.4, 11.4), (1865, 24.0, 11.0), (1880, 22.5, 10.8),
    (1900, 20.6, 10.4), (1920, 19.0, 10.0), (1940, 17.4, 9.8), (1960, 16.0, 9.4), (1980, 14.5, 9.2),
    (2000, 15.6, 9.5), (2020, 14.6, 8.8), (2040, 16.0, 9.6), (2060, 15.0, 9.0), (2080, 16.4, 9.8),
    (2100, 14.8, 9.2), (2120, 15.8, 9.6), (2140, 14.4, 8.8), (2160, 15.4, 9.4), (2180, 16.2, 9.0),
    (2200, 15.2, 9.6), (2220, 16.0, 9.0), (2240, 14.6, 8.6), (2260, 15.6, 9.2), (2280, 14.0, 8.4),
    (2300, 15.0, 8.8), (2315, 16.0, 9.0),
    (2325, 24.5, 15.5), (2345, 25.2, 15.0), (2365, 24.6, 14.2), (2385, 23.5, 15.4), (2405, 24.2, 14.6),
    (2425, 23.8, 15.6), (2445, 24.8, 14.8), (2465, 24.0, 15.2), (2485, 25.0, 14.4), (2505, 24.4, 15.6),
    (2525, 25.4, 14.8), (2545, 24.6, 15.3), (2565, 25.2, 14.5), (2585, 24.2, 15.0), (2605, 23.6, 15.4),
    (2625, 24.0, 14.7), (2645, 23.4, 15.2), (2665, 23.8, 14.6), (2685, 23.2, 15.0), (2700, 23.5, 14.8),
    (2705, 15.5, 12.0), (2730, 15.2, 11.5), (2760, 14.8, 10.8), (2800, 14.5, 10.0), (2850, 14.2, 9.2),
    (2900, 14.0, 8.6), (2950, 13.9, 8.4), (3000, 14.0, 8.6), (3050, 14.6, 9.2), (3100, 15.8, 10.4),
    (3150, 16.8, 11.0), (3200, 17.0, 11.2), (3250, 16.2, 10.8), (3300, 15.6, 10.2), (3350, 15.0, 9.8),
    (3405, 14.6, 9.4),
]
FT_C = [(1936, 19.1), (1993, 13.8), (1972, 12.2), (2019, 12.6), (2040, 10.5), (2047, 11.7),
        (2075, 11.7), (2094, 11.1), (2117, 10.7), (2129, 14.2), (2153, 13.2), (2176, 14.5)]

# ---- panel (d) ----
BAND_D = [
    (258, 24.0, 9.4), (264, 22.8, 8.9), (270, 22.0, 8.5), (277, 24.4, 8.2), (285, 24.8, 8.0), (292, 22.6, 7.7),
    (300, 23.5, 7.4), (307, 25.4, 7.9), (315, 25.0, 7.8), (322, 23.1, 7.2), (330, 24.2, 6.8), (337, 25.0, 7.4),
    (345, 25.8, 7.2), (352, 21.8, 6.6), (360, 23.0, 6.2), (367, 24.9, 6.6), (375, 24.6, 6.8), (382, 23.6, 6.0),
    (390, 22.5, 5.6), (397, 24.8, 6.1), (405, 24.4, 6.4), (412, 23.3, 5.5), (420, 26.0, 5.0), (427, 24.6, 5.4),
    (435, 23.2, 5.8), (442, 25.2, 5.1), (450, 24.8, 4.6), (457, 22.4, 5.0), (465, 23.6, 5.4), (472, 25.1, 5.7),
    (480, 24.6, 6.0), (487, 23.4, 5.5), (495, 22.8, 5.2), (502, 24.9, 5.8), (510, 24.2, 6.2), (517, 22.6, 5.9),
    (525, 23.4, 5.6), (532, 24.8, 6.0), (540, 25.0, 6.4), (547, 23.6, 6.1), (555, 22.6, 5.8), (562, 24.1, 6.3),
    (570, 24.4, 6.6), (577, 22.2, 6.2), (585, 23.0, 6.0), (592, 24.6, 6.5), (600, 24.8, 6.8), (607, 23.4, 6.4),
    (615, 22.4, 6.2), (622, 24.2, 6.7), (630, 24.0, 7.0), (637, 21.8, 6.6), (645, 23.2, 6.4), (652, 24.7, 6.9),
    (660, 25.2, 7.2), (667, 22.9, 6.8), (675, 23.6, 6.6), (682, 24.8, 7.1), (690, 24.4, 7.0), (697, 22.4, 6.7),
    (705, 22.8, 6.8), (712, 24.5, 7.3), (718, 25.0, 7.2),
    (722, 24.2, 10.5), (728, 25.6, 10.9), (735, 26.4, 11.0), (742, 24.6, 10.6), (750, 27.8, 10.2), (755, 25.0, 10.8),
    (760, 25.0, 11.4), (767, 23.8, 10.9), (775, 26.6, 10.6), (782, 25.2, 11.0), (790, 24.0, 11.2), (797, 22.6, 10.5),
    (805, 25.5, 10.0), (812, 24.3, 10.4), (820, 21.6, 10.8), (827, 23.6, 10.2), (835, 24.8, 9.8), (842, 23.9, 10.3),
    (850, 22.8, 10.6), (857, 24.6, 10.0), (865, 25.4, 9.6), (872, 24.1, 10.1), (880, 23.4, 10.4), (887, 21.8, 10.0),
    (895, 20.2, 9.8), (902, 23.0, 10.2), (910, 24.2, 10.6), (917, 23.6, 10.0), (925, 22.6, 9.6), (932, 24.0, 10.1),
    (940, 24.6, 10.4), (947, 23.0, 10.0), (955, 21.8, 9.8), (962, 23.2, 10.2), (970, 24.0, 10.6), (977, 23.4, 10.1),
    (985, 22.4, 10.0), (992, 23.8, 10.3), (1000, 24.8, 10.4), (1007, 23.8, 10.0), (1015, 23.0, 9.6), (1022, 24.4, 9.9),
    (1030, 25.0, 10.2), (1037, 24.4, 9.9), (1045, 24.0, 9.8), (1052, 22.6, 10.1), (1060, 21.5, 10.4), (1067, 22.4, 10.2),
    (1075, 22.6, 10.0),
]
FT_D1 = [
    (265, 21.7), (272, 10.3), (299, 9.5), (288, 8.3), (299, 8.3), (322, 17.4), (315, 16.0), (345, 9.1),
    (340, 12.6), (356, 12.0), (367, 15.1), (374, 8.6), (390, 8.5), (402, 8.7), (415, 7.7), (429, 9.3),
    (443, 6.5), (447, 6.2), (459, 6.6), (465, 5.8), (474, 6.4), (488, 6.1), (497, 8.3), (504, 4.2),
    (515, 4.2), (527, 6.9), (538, 6.4), (550, 6.6), (561, 5.5), (572, 7.4), (584, 7.6), (595, 7.0),
    (607, 6.4), (618, 6.8), (629, 6.1), (641, 6.8), (652, 6.1), (664, 6.6), (675, 7.2), (686, 7.3),
    (698, 7.2), (709, 6.5), (721, 7.3), (721, 12.6), (725, 10.1), (739, 9.3), (744, 8.4), (755, 9.8),
    (766, 11.5), (773, 10.5), (784, 9.6), (796, 8.7), (807, 9.1), (816, 9.9), (830, 8.5), (846, 7.3),
    (853, 5.6), (857, 8.3), (869, 9.4), (880, 9.1), (892, 8.5), (903, 9.7), (914, 10.2), (921, 10.7),
    (937, 10.6), (948, 9.3), (960, 11.4), (971, 9.1), (982, 9.1), (989, 10.2), (1000, 9.1), (1017, 11.1),
    (1028, 9.7), (1039, 10.2), (1051, 10.6), (1062, 9.9), (1074, 10.2), (1085, 9.1),
]
FT_D2 = [
    (269, 22.4), (299, 23.0), (345, 20.8), (356, 21.1), (402, 21.7), (425, 19.6), (436, 19.3), (374, 18.6),
    (415, 17.4), (288, 14.6), (299, 14.4), (390, 15.5), (406, 15.5), (459, 13.7), (447, 12.6), (465, 12.9),
    (527, 12.2), (504, 11.1), (531, 11.0), (479, 10.0), (490, 9.9), (515, 8.0), (545, 15.8), (591, 15.8),
    (561, 13.6), (577, 14.1), (602, 13.1), (629, 12.5), (648, 11.9), (614, 10.1), (637, 10.2), (664, 10.3),
    (675, 11.5), (691, 10.9), (693, 18.8), (709, 16.6), (721, 15.3), (716, 14.2), (892, 16.2),
]

# ---------------- styling ----------------
BAND_COLOR = "#E6C1C1"
DARK_RED = "#960000"
RED = "#FF0000"
BLUE = "#0000FF"
GRAY = "#8C8C8C"


def px_x(v):
    return (v - PAGE_OFFSET) / W


def px_y(v):
    return 1 - (v - PAGE_OFFSET) / H


def sweep(segments):
    out = []
    for a, b, s in segments:
        out.extend(np.arange(a, b, s).tolist())
    return out


def runs(run_list, pts):
    xs, ys = [], []
    for a, b, n, v in run_list:
        xs.extend(np.linspace(a, b, n).tolist())
        ys.extend([v] * n)
    for f, v in pts:
        xs.append(f)
        ys.append(v)
    return xs, ys


def band_trace(band, xa, ya):
    f = [b[0] for b in band]
    hi = [b[1] for b in band]
    lo = [b[2] for b in band]
    return go.Scatter(x=f + f[::-1], y=hi + lo[::-1], fill="toself", fillcolor=BAND_COLOR,
                      mode="lines", line=dict(width=0, color=BAND_COLOR), hoverinfo="skip",
                      showlegend=False, xaxis=xa, yaxis=ya)


def pts_trace(pts, xa, ya, name, color, symbol, size, legend, show=True, group=None):
    return go.Scatter(x=[p[0] for p in pts], y=[p[1] for p in pts], mode="markers", name=name,
                      marker=dict(symbol=symbol, size=size, color=color,
                                  line=dict(width=1, color=color)),
                      xaxis=xa, yaxis=ya, legend=legend, showlegend=show,
                      legendgroup=group or name)


def dose_trace(run_list, pts, xa, ya, legend):
    xs, ys = runs(run_list, pts)
    return go.Scatter(x=xs, y=ys, mode="markers", name="Max. Dose Rate",
                      marker=dict(symbol="cross-thin", size=9, color=BLUE,
                                  line=dict(width=1, color=BLUE)),
                      xaxis=xa, yaxis=ya, legend=legend, legendgroup="dose", cliponaxis=False)


def freq_trace(segments, xa, ya, legend):
    xs = sweep(segments)
    return go.Scatter(x=xs, y=[0] * len(xs), mode="markers", name="Frequencies",
                      marker=dict(symbol="x-thin", size=5, color=GRAY,
                                  line=dict(width=1, color=GRAY)),
                      xaxis=xa, yaxis=ya, legend=legend, legendgroup="freq", cliponaxis=False)


fig = go.Figure()

# panel (a)
fig.add_trace(band_trace(BAND_A, "x", "y"))
fig.add_trace(pts_trace(FT_A, "x", "y", "Failure Threshold", DARK_RED, "circle-open", 10, "legend"))
fig.add_trace(pts_trace(FT_A_RED, "x", "y", "Failure Threshold (2)", RED, "circle-open", 10, "legend", False, "ftred"))
fig.add_trace(dose_trace(DOSE_A_RUNS, DOSE_A_PTS, "x", "y2", "legend"))
fig.add_trace(freq_trace(FREQ_SWEEP_ABC, "x", "y", "legend"))

# panel (b)
fig.add_trace(band_trace(BAND_B, "x2", "y3"))
fig.add_trace(pts_trace(FT_B, "x2", "y3", "Failure Threshold", DARK_RED, "circle-open", 10, "legend2"))
fig.add_trace(pts_trace(FT_B_RED, "x2", "y3", "Failure Threshold (2)", RED, "circle-open", 10, "legend2", False, "ftred"))
fig.add_trace(dose_trace(DOSE_B_RUNS, DOSE_B_PTS, "x2", "y4", "legend2"))
fig.add_trace(freq_trace(FREQ_SWEEP_ABC, "x2", "y3", "legend2"))

# panel (c)
fig.add_trace(band_trace(BAND_C, "x3", "y5"))
fig.add_trace(pts_trace(FT_C, "x3", "y5", "Failure Threshold", DARK_RED, "circle-open", 10, "legend3"))
fig.add_trace(freq_trace(FREQ_SWEEP_ABC, "x3", "y5", "legend3"))

# panel (d)
fig.add_trace(band_trace(BAND_D, "x4", "y6"))
fig.add_trace(pts_trace(FT_D1, "x4", "y6", "Failure Threshold 1", DARK_RED, "circle-open", 10, "legend4"))
fig.add_trace(pts_trace(FT_D2, "x4", "y6", "Failure Threshold 2", RED, "diamond-open", 11, "legend4"))
fig.add_trace(freq_trace(FREQ_SWEEP_D, "x4", "y6", "legend4"))

# ---------------- axes ----------------
PANELS = {
    "a": dict(x=(42.7, 492.7), y=(20.7, 372.0)),
    "b": dict(x=(615.0, 1062.0), y=(18.3, 370.0)),
    "c": dict(x=(44.0, 522.7), y=(513.3, 887.0)),
    "d": dict(x=(618.4, 1101.0), y=(514.3, 891.7)),
}


def xdom(k):
    a, b = PANELS[k]["x"]
    return [px_x(a), px_x(b)]


def ydom(k):
    t, b = PANELS[k]["y"]
    return [px_y(b), px_y(t)]


def xaxis(k, anchor, rng):
    return dict(domain=xdom(k), anchor=anchor, range=rng, tickvals=X_TICKS, ticks="inside",
                ticklen=5, tickwidth=1, tickcolor="black", showline=True, linecolor="black",
                linewidth=2, mirror="ticks", showgrid=False, zeroline=False,
                tickfont=dict(size=20, color="black", family=FONT))


def yleft(k, anchor):
    return dict(domain=ydom(k), anchor=anchor, range=Y_RANGE, showticklabels=False, ticks="",
                showline=True, linecolor="black", linewidth=2, mirror=True, showgrid=False,
                zeroline=False)


def yright(k, anchor, over):
    return dict(domain=ydom(k), anchor=anchor, overlaying=over, side="right", range=Y_RANGE,
                tickvals=DOSE_TICKS, ticks="inside", ticklen=5, tickwidth=1, tickcolor="black",
                showline=True, linecolor="black", linewidth=2, showgrid=False, zeroline=False,
                tickfont=dict(size=20, color="black", family=FONT))


def legend_box(left, top, itemwidth, size=15, gap=0):
    return dict(x=px_x(left), y=px_y(top), xanchor="left", yanchor="top", bgcolor="white",
                bordercolor="black", borderwidth=1.5, font=dict(size=size, color="black", family=FONT),
                itemwidth=itemwidth, traceorder="grouped", tracegroupgap=gap)


annotations = []


def note(text, x, y, size=20, angle=0):
    annotations.append(dict(text=text, x=px_x(x), y=px_y(y), xref="paper", yref="paper",
                            showarrow=False, xanchor="center", yanchor="middle", textangle=angle,
                            font=dict(size=size, color="black", family=FONT)))


# axis titles and captions (reference pixel positions)
note("Frequency / MHz", 267, 413)
note("Frequency / MHz", 840, 409)
note("Frequency / MHz", 282, 925)
note("Frequency / MHz", 859, 930)
for (xx, yy) in [(21, 198), (596, 197), (22, 701), (597, 703)]:
    note("Electric Field / a.u.", xx, yy, angle=-90)
note("Dose Rate / <i>μ</i>Sv/h", 527, 198, angle=-90)
note("Dose Rate / <i>μ</i>Sv/h", 1100, 194, angle=-90)
note(CAPTIONS[0], 305, 466, size=22)
note(CAPTIONS[1], 850, 460, size=22)
note(CAPTIONS[2], 283, 968, size=22)
note(CAPTIONS[3], 851, 978, size=22)

fig.update_layout(
    width=W, height=H, margin=dict(l=0, r=0, t=0, b=0),
    paper_bgcolor="white", plot_bgcolor="white",
    font=dict(family=FONT, color="black"),
    showlegend=True,
    xaxis=xaxis("a", "y", X_RANGE), yaxis=yleft("a", "x"), yaxis2=yright("a", "x", "y"),
    xaxis2=xaxis("b", "y3", X_RANGE), yaxis3=yleft("b", "x2"), yaxis4=yright("b", "x2", "y3"),
    xaxis3=xaxis("c", "y5", X_RANGE), yaxis5=yleft("c", "x3"),
    xaxis4=xaxis("d", "y6", X_RANGE_D), yaxis6=yleft("d", "x4"),
    legend=legend_box(305, 284, 44),
    legend2=legend_box(887, 280, 46),
    legend3=legend_box(322, 792, 46, size=16, gap=9),
    legend4=legend_box(892, 795, 48, size=16),
    annotations=annotations,
)

fig.write_html("out.html")
